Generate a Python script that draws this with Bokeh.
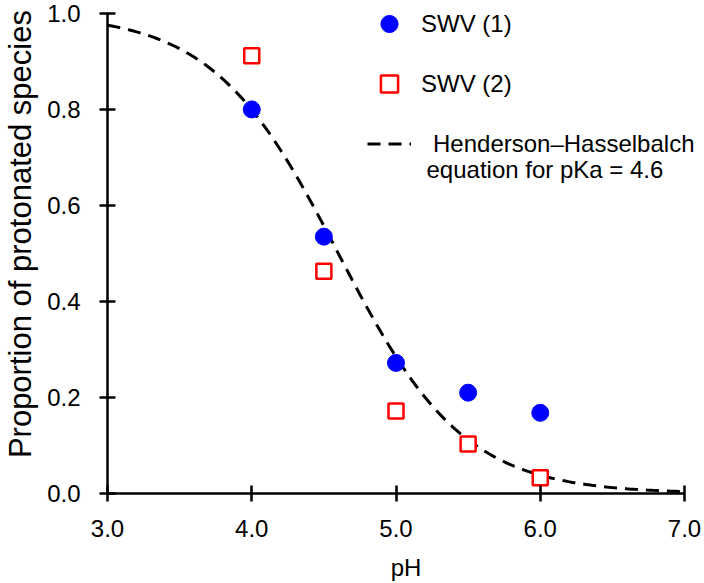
import numpy as np
from bokeh.plotting import figure
from bokeh.models import (ColumnDataSource, FixedTicker, NumeralTickFormatter,
                          Legend, LegendItem, Range1d, Label)
from bokeh.embed import file_html
from bokeh.resources import INLINE

# Measured proportion of protonated species vs pH
ph = [4.0, 4.5, 5.0, 5.5, 6.0]
swv1 = [0.80, 0.535, 0.272, 0.21, 0.168]
swv2 = [0.912, 0.463, 0.172, 0.103, 0.033]

pka = 4.6
x_ticks = [3.0, 4.0, 5.0, 6.0, 7.0]
y_ticks = [0.0, 0.2, 0.4, 0.6, 0.8, 1.0]

# Henderson–Hasselbalch fraction protonated for the given pKa
ph_curve = np.linspace(3.0, 7.0, 200)
hh = 1.0 / (1.0 + 10 ** (ph_curve - pka))

FONT = "Liberation Sans"

# The frame runs a little past pH 7 and 1.0 so the legend has room;
# the axes themselves stop at 7.0 and 1.0.
p = figure(width=704, height=583, output_backend="svg", toolbar_location=None,
           x_range=Range1d(3.0, 3.0 + 4.0 * 597 / 577),
           y_range=Range1d(0.0, 496 / 483),
           min_border_left=107, min_border_right=0, min_border_top=0,
           min_border_bottom=87)
p.outline_line_color = None
p.xgrid.visible = False
p.ygrid.visible = False
p.background_fill_color = "white"
p.border_fill_color = "white"

curve = p.line(ph_curve, hh, line_color="black", line_width=3, line_dash="13 8")
src1 = ColumnDataSource(dict(x=ph, y=swv1))
src2 = ColumnDataSource(dict(x=ph, y=swv2))
r1 = p.scatter("x", "y", source=src1, marker="circle", size=17,
               fill_color="#0000FF", line_color="#0000FF")
r2 = p.scatter("x", "y", source=src2, marker="square", size=15,
               fill_color="white", line_color="#FF0000", line_width=2.5)

for ax in (p.xaxis[0], p.yaxis[0]):
    ax.axis_line_width = 2.5
    ax.axis_line_color = "black"
    ax.major_tick_line_width = 2.5
    ax.major_tick_line_color = "black"
    ax.major_tick_in = 8
    ax.major_tick_out = 8
    ax.minor_tick_line_color = None
    ax.major_label_text_font = FONT
    ax.major_label_text_font_size = "24px"
    ax.major_label_text_color = "black"
    ax.axis_label_text_font = FONT
    ax.axis_label_text_font_style = "normal"
    ax.axis_label_text_color = "black"
    ax.formatter = NumeralTickFormatter(format="0.0")

p.xaxis.bounds = (3.0, 7.0)
p.yaxis.bounds = (0.0, 1.0)
p.xaxis.ticker = FixedTicker(ticks=x_ticks)
p.yaxis.ticker = FixedTicker(ticks=y_ticks)
p.xaxis.axis_label = "pH"
p.yaxis.axis_label = "\u00a0\u00a0\u00a0Proportion of protonated species"
p.xaxis.axis_label_text_font_size = "24px"
p.yaxis.axis_label_text_font_size = "31px"
p.xaxis.major_label_standoff = 18
p.yaxis.major_label_standoff = 19
p.xaxis.axis_label_standoff = 14
p.yaxis.axis_label_standoff = 6

legend = Legend(items=[
    LegendItem(label="SWV (1)", renderers=[r1]),
    LegendItem(label="SWV (2)", renderers=[r2]),
    LegendItem(label="\u2002Henderson\u2013Hasselbalch", renderers=[curve]),
], location=(260, 328))
legend.background_fill_alpha = 0
legend.border_line_color = None
legend.label_text_font = FONT
legend.label_text_font_size = "24px"
legend.label_text_color = "black"
legend.glyph_width = 44
legend.glyph_height = 43
legend.label_height = 43
legend.spacing = 17
legend.padding = 0
legend.margin = 0
legend.label_standoff = 10
p.add_layout(legend)

# second line of the curve's legend entry
p.add_layout(Label(x=319, y=324, x_units="screen", y_units="screen",
                   text="equation for pKa = 4.6", text_font=FONT,
                   text_font_size="24px", text_color="black",
                   text_baseline="middle"))

open("out.html", "w").write(file_html(p, INLINE))
